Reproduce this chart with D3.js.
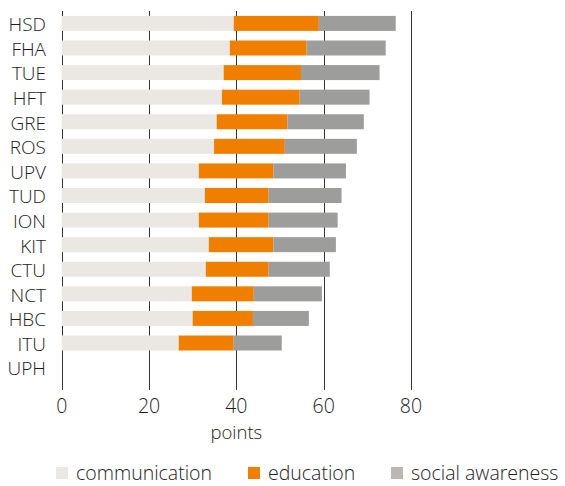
<!DOCTYPE html>
<html><head><meta charset="utf-8">
<script src="https://cdn.jsdelivr.net/npm/d3@7"></script>
<style>
body{margin:0;background:#fff;}
text{font-family:"Open Sans",sans-serif;fill:#1e1e1e;font-weight:300;}
</style></head>
<body><svg id="chart" width="565" height="486"></svg>
<script>
const categories = ["HSD","FHA","TUE","HFT","GRE","ROS","UPV","TUD","ION","KIT","CTU","NCT","HBC","ITU","UPH"];
const communication = [39.4,38.5,37.1,36.7,35.5,34.9,31.4,32.8,31.4,33.7,33.0,29.8,30.0,26.8,0];
const education     = [19.5,17.6,17.7,17.8,16.2,16.2,17.1,14.6,16.0,14.8,14.4,14.2,13.8,12.6,0];
const social        = [17.6,18.1,18.0,16.0,17.5,16.5,16.6,16.7,15.8,14.3,14.0,15.6,12.8,11.0,0];
const seriesNames = ["communication","education","social awareness"];
const xTicks = [0,20,40,60,80];
const barColors = ["#ebe8e4","#f07f00","#9d9d9c"];
const legendColors = ["#ebe8e4","#f07f00","#bcb8b1"];

const svg = d3.select("#chart");
const x = d3.scaleLinear().domain([0,80]).range([61.7,411]);
const y = d3.scaleBand().domain(categories).range([11,380]).paddingInner(0.39).paddingOuter(0.2);

// grid lines (behind bars)
svg.append("g").selectAll("line").data(xTicks).join("line")
  .attr("x1",d=>Math.round(x(d))+0.5).attr("x2",d=>Math.round(x(d))+0.5)
  .attr("y1",11).attr("y2",390)
  .attr("stroke","#333").attr("stroke-width",1);

const rows = categories.map((c,i)=>({cat:c, communication:communication[i], education:education[i], "social awareness":social[i]}));
const stack = d3.stack().keys(seriesNames)(rows);

svg.append("g").selectAll("g").data(stack).join("g")
  .attr("fill",(d,i)=>barColors[i])
  .selectAll("rect").data(d=>d).join("rect")
  .attr("x",d=>x(d[0])).attr("width",d=>Math.max(0,x(d[1])-x(d[0])))
  .attr("y",d=>y(d.data.cat)).attr("height",y.bandwidth());

// x tick labels
svg.append("g").selectAll("text").data(xTicks).join("text")
  .attr("x",d=>x(d)).attr("y",413).attr("text-anchor","middle")
  .attr("font-size",19.5).text(d=>d);

svg.append("text").attr("x",x(40)).attr("y",439).attr("text-anchor","middle")
  .attr("font-size",18.5).text("points");

// category labels
svg.append("g").selectAll("text").data(categories).join("text")
  .attr("x",46).attr("y",d=>y(d)+y.bandwidth()/2+1).attr("dy","0.36em")
  .attr("text-anchor","end").attr("font-size",19).text(d=>d);

// legend
const legX = [56,248,391];
const leg = svg.append("g").selectAll("g").data(seriesNames).join("g")
  .attr("transform",(d,i)=>`translate(${legX[i]},467)`);
leg.append("rect").attr("width",12).attr("height",12).attr("fill",(d,i)=>legendColors[i]);
leg.append("text").attr("x",20).attr("y",6).attr("dy","0.36em").attr("font-size",19.5).text(d=>d);
</script></body></html>
